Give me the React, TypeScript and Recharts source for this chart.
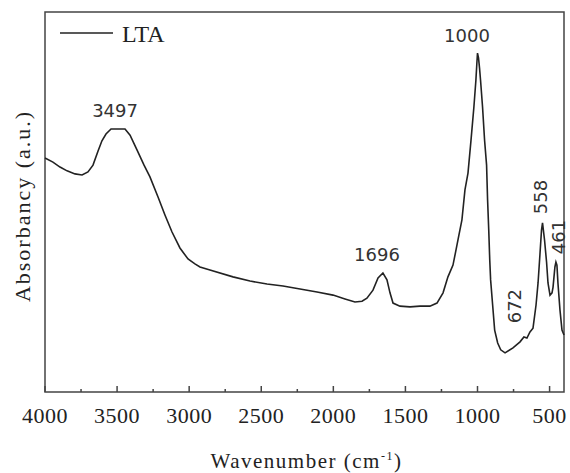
import {
  Legend,
  Line,
  LineChart,
  ReferenceArea,
  ReferenceDot,
  XAxis,
  YAxis,
} from "recharts";

const INK = "#222";
const FRAME = "#444";
const SERIF = "'Liberation Serif', 'Times New Roman', serif";
const SANS = "'DejaVu Sans', Verdana, sans-serif";

// FTIR spectrum of LTA (wavenumber in cm-1, absorbance in a.u.)
const wavenumbers = [
  4000, 3945, 3896, 3847, 3792, 3743, 3702, 3667, 3632, 3605, 3577, 3542, 3494,
  3445, 3410, 3362, 3313, 3272, 3216, 3168, 3119, 3064, 3008, 2960, 2925, 2856,
  2696, 2578, 2460, 2349, 2231, 2113, 2002, 1919, 1850, 1801, 1767, 1725, 1690,
  1656, 1628, 1607, 1586, 1538, 1468, 1399, 1330, 1281, 1239, 1205, 1170, 1149,
  1129, 1108, 1087, 1066, 1045, 1025, 1011, 1005, 1000, 993, 986, 979, 965, 951,
  937, 930, 922, 915, 909, 895, 881, 860, 839, 809, 754, 705, 678, 657, 636, 615,
  594, 580, 567, 556, 549, 535, 521, 511, 497, 483, 476, 463, 456, 449, 442, 428,
  414, 400,
];
const absorbance = [
  61.6, 60.5, 59.2, 58.2, 57.4, 57.1, 57.9, 59.7, 63.4, 66.1, 67.9, 69.2, 69.2,
  69.2, 67.6, 63.7, 59.7, 56.6, 51.3, 46.6, 42.1, 37.9, 35.0, 33.7, 32.9, 32.1,
  30.3, 29.2, 28.4, 27.9, 27.1, 26.3, 25.5, 24.5, 23.7, 23.9, 24.7, 26.8, 30.0,
  31.3, 29.5, 26.1, 23.4, 22.6, 22.4, 22.6, 22.6, 23.4, 26.1, 30.3, 33.4, 37.4,
  41.3, 45.3, 53.2, 57.6, 66.3, 75.0, 82.1, 86.1, 89.2, 87.9, 85.3, 82.1, 75.0,
  66.3, 59.7, 50.5, 42.6, 34.7, 29.5, 22.9, 16.3, 12.9, 11.1, 10.3, 11.6, 13.2,
  14.5, 14.2, 15.8, 16.8, 22.9, 28.7, 36.1, 42.6, 44.5, 40.0, 34.2, 28.7, 25.5,
  26.1, 27.6, 32.9, 34.2, 33.4, 28.7, 21.6, 16.3, 15.0,
];

const majorTicks = [4000, 3500, 3000, 2500, 2000, 1500, 1000, 500];
const minorTicks = [3750, 3250, 2750, 2250, 1750, 1250, 750];

// peak annotations: text, anchor (wavenumber, absorbance), rotated or not
const peakText = ["3497", "1000", "1696", "672", "558", "461"];
const peakAtX = [3514, 1073, 1697, 740, 560, 435];
const peakAtY = [72.4, 92.1, 34.5, 22.6, 51.3, 40.8];
const peakRotated = [false, false, false, true, true, true];

const data = wavenumbers.map((w, i) => ({ w, a: absorbance[i] }));
const allTicks = [...majorTicks, ...minorTicks].sort((p, q) => q - p);

const serifStyle = (size: number, spacing = 0) => ({
  fontFamily: SERIF,
  fontSize: size,
  letterSpacing: spacing,
});

const renderTick = (props: any) => {
  const { x, y, payload } = props;
  const major = majorTicks.includes(payload.value);
  return (
    <g>
      <line
        x1={x}
        x2={x}
        y1={y}
        y2={y - (major ? 6 : 3)}
        stroke={FRAME}
        strokeWidth={1.5}
      />
      {major && (
        <text
          x={x}
          y={y + 31}
          textAnchor="middle"
          style={serifStyle(22, 0.5)}
          fill={INK}
        >
          {payload.value}
        </text>
      )}
    </g>
  );
};

const peakShape = (i: number) => (props: any) => {
  const { cx, cy } = props;
  const style = { fontFamily: SANS, fontSize: 18 };
  if (peakRotated[i]) {
    return (
      <text
        x={cx}
        y={cy}
        textAnchor="middle"
        dominantBaseline="central"
        transform={`rotate(-90 ${cx} ${cy})`}
        style={style}
        fill="#333"
      >
        {peakText[i]}
      </text>
    );
  }
  return (
    <text x={cx} y={cy} textAnchor="middle" style={style} fill="#333">
      {peakText[i]}
    </text>
  );
};

const renderLegend = () => (
  <svg width={120} height={34}>
    <line x1={5} x2={58} y1={18} y2={18} stroke={INK} strokeWidth={1.5} />
    <text x={67} y={27} style={serifStyle(24)} fill={INK}>
      LTA
    </text>
  </svg>
);

export default function App() {
  return (
    <div style={{ position: "absolute", left: 0, top: 0, background: "#fff" }}>
      <LineChart
        width={570}
        height={473}
        data={data}
        margin={{ top: 12, right: 6, bottom: 0, left: 0 }}
      >
        <XAxis
          dataKey="w"
          type="number"
          domain={[400, 4000]}
          reversed
          ticks={allTicks}
          interval={0}
          tick={renderTick}
          tickLine={false}
          tickSize={0}
          tickMargin={0}
          axisLine={false}
          height={81}
          label={{
            content: (p: any) => {
              const vb = p.viewBox;
              return (
                <text
                  x={vb.x + vb.width / 2 + 2}
                  y={vb.y + 76}
                  textAnchor="middle"
                  style={serifStyle(21, 1.5)}
                  fill={INK}
                >
                  Wavenumber (cm
                  <tspan dy={-8} style={{ fontSize: 12 }}>
                    -1
                  </tspan>
                  <tspan dy={8}>)</tspan>
                </text>
              );
            },
          }}
        />
        <YAxis
          domain={[0, 100]}
          width={45}
          tick={false}
          axisLine={false}
          tickLine={false}
          label={{
            content: (p: any) => {
              const vb = p.viewBox;
              const cx = vb.x + 22;
              const cy = vb.y + vb.height / 2 + 4;
              return (
                <text
                  x={cx}
                  y={cy}
                  textAnchor="middle"
                  dominantBaseline="central"
                  transform={`rotate(-90 ${cx} ${cy})`}
                  style={serifStyle(22, 2)}
                  fill={INK}
                >
                  Absorbancy (a.u.)
                </text>
              );
            },
          }}
        />
        <ReferenceArea
          x1={4000}
          x2={400}
          y1={0}
          y2={100}
          fill="none"
          stroke={FRAME}
          strokeWidth={1.5}
        />
        <Legend
          layout="horizontal"
          verticalAlign="middle"
          align="center"
          content={renderLegend}
          wrapperStyle={{ left: 55, top: 15, width: 120, height: 34 }}
        />
        <Line
          dataKey="a"
          type="linear"
          stroke={INK}
          strokeWidth={1.6}
          dot={false}
          isAnimationActive={false}
        />
        {peakText.map((t, i) => (
          <ReferenceDot
            key={t}
            x={peakAtX[i]}
            y={peakAtY[i]}
            r={0}
            shape={peakShape(i)}
          />
        ))}
      </LineChart>
    </div>
  );
}
